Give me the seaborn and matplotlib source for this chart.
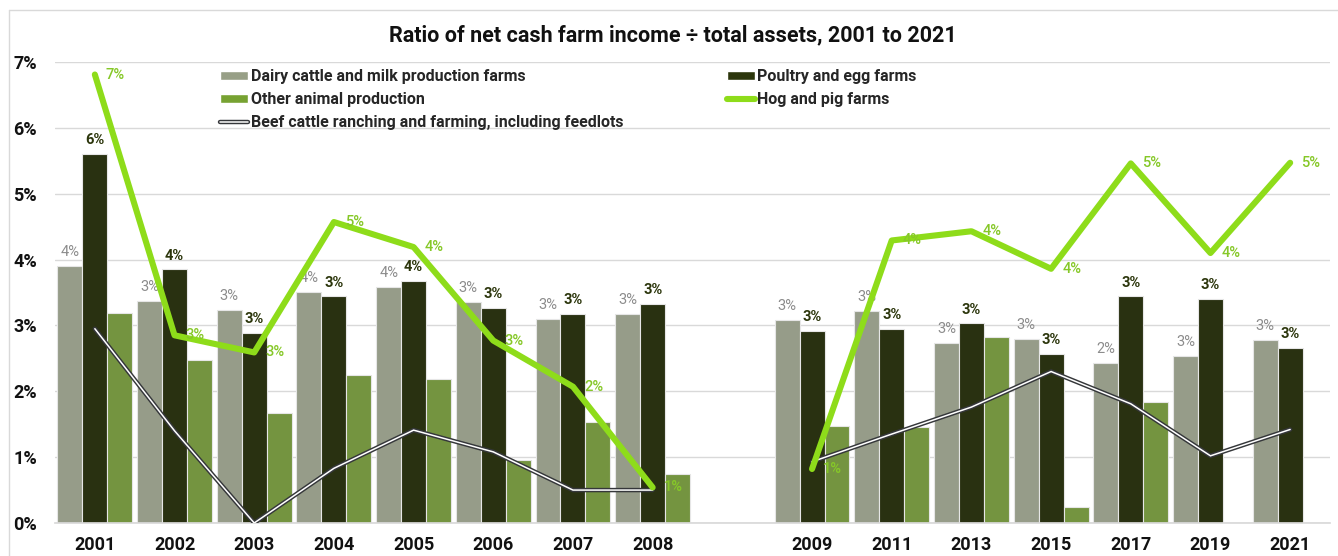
"""
Ratio of net cash farm income / total assets, 2001 to 2021
"""
import numpy as np
import pandas as pd
import matplotlib
import matplotlib.pyplot as plt
from matplotlib.lines import Line2D
from matplotlib.patches import Patch
import seaborn as sns

# data (percent); " " is the empty slot between 2008 and 2009
years = ['2001', '2002', '2003', '2004', '2005', '2006', '2007', '2008', ' ',
         '2009', '2011', '2013', '2015', '2017', '2019', '2021']
nan = np.nan
dairy = [3.90, 3.37, 3.24, 3.51, 3.58, 3.35, 3.10, 3.18, nan,
         3.09, 3.22, 2.74, 2.79, 2.43, 2.53, 2.78]
poultry = [5.61, 3.85, 2.89, 3.44, 3.67, 3.26, 3.17, 3.32, nan,
           2.92, 2.94, 3.03, 2.57, 3.44, 3.40, 2.66]
other = [3.19, 2.48, 1.67, 2.25, 2.18, 0.95, 1.53, 0.75, nan,
         1.47, 1.46, 2.82, 0.25, 1.84, nan, nan]
hog = [6.81, 2.85, 2.59, 4.57, 4.19, 2.77, 2.07, 0.54, nan,
       0.82, 4.29, 4.43, 3.86, 5.46, 4.10, 5.47]
beef = [2.95, 1.40, 0.0, 0.83, 1.41, 1.08, 0.50, 0.50, nan,
        0.93, 1.35, 1.76, 2.30, 1.81, 1.02, 1.42]

bar_names = ['Dairy cattle and milk production farms', 'Poultry and egg farms',
             'Other animal production']
hog_name = 'Hog and pig farms'
beef_name = 'Beef cattle ranching and farming, including feedlots'

c_dairy = '#979f86'
c_poultry = '#2c360c'
c_other = '#77a232'
c_hog = '#8edc1a'
c_beef = '#35373a'

sns.set_theme(style='white')
plt.rcParams['font.family'] = ['Roboto', 'DejaVu Sans']

df = pd.DataFrame({'year': years * 3,
                   'series': np.repeat(bar_names, len(years)),
                   'value': dairy + poultry + other})

fig = plt.figure(figsize=(13.38, 5.56), dpi=100)
ax = fig.add_axes([55 / 1338, 1 - 523 / 556, 1275 / 1338, 461 / 556])

sns.barplot(data=df, x='year', y='value', hue='series', order=years,
            hue_order=bar_names, palette=[c_dairy, c_poultry, c_other],
            width=0.94, errorbar=None, edgecolor='#e6e6e6', linewidth=0.8,
            legend=False, ax=ax, zorder=2)

# value labels on dairy and poultry bars
for cont, col, wt in [(ax.containers[0], '#8c8c8c', 'normal'),
                      (ax.containers[1], c_poultry, 'bold')]:
    labels = ['' if np.isnan(v) else f'{v:.0f}%' for v in cont.datavalues]
    ax.bar_label(cont, labels=labels, padding=5, fontsize=10.5,
                 color=col, fontweight=wt)

# lines, split at the empty slot
pos = np.arange(len(years))
gap = years.index(' ')
for seg in (slice(0, gap), slice(gap + 1, len(years))):
    x = pos[seg]
    sns.lineplot(x=x, y=np.array(beef)[seg], color=c_beef, lw=3.2,
                 ax=ax, zorder=3, solid_joinstyle='miter')
    sns.lineplot(x=x, y=np.array(beef)[seg], color='white', lw=1.1,
                 ax=ax, zorder=3.1, solid_joinstyle='miter')
    sns.lineplot(x=x, y=np.array(hog)[seg], color=c_hog, lw=4.4,
                 ax=ax, zorder=4, solid_capstyle='round')

for xi, v in zip(pos, hog):
    if not np.isnan(v):
        ax.annotate(f'{v:.0f}%', (xi, v), xytext=(8, 0),
                    textcoords='offset points', ha='left', va='center',
                    fontsize=10.5, fontweight='medium', color='#86c828', zorder=5)

ax.set_xlim(-0.5, len(years) - 0.5)
ax.set_ylim(0, 7)
ax.set_yticks(range(8))
ax.set_yticklabels([f'{i}%' for i in range(8)])
ax.set_xlabel('')
ax.set_ylabel('')
ax.grid(axis='y', color='#d9d9d9', lw=1.0, zorder=0)
ax.set_axisbelow(True)
for s in ['top', 'right', 'left']:
    ax.spines[s].set_visible(False)
ax.spines['bottom'].set_color('#d9d9d9')
ax.tick_params(axis='both', length=0, labelsize=13)
ax.tick_params(axis='y', pad=13)
ax.tick_params(axis='x', pad=9)
for t in ax.get_xticklabels() + ax.get_yticklabels():
    t.set_fontweight('bold')
    t.set_color('#111111')

# legend, laid out as rows like the original
handles = [Patch(facecolor=c_dairy), Patch(facecolor=c_other),
           (Line2D([], [], color=c_beef, lw=3.2), Line2D([], [], color='white', lw=1.1)),
           Patch(facecolor=c_poultry),
           Line2D([], [], color=c_hog, lw=4.4, solid_capstyle='round')]
labels = [bar_names[0], bar_names[2], beef_name, bar_names[1], hog_name]
fig.legend(handles, labels, loc='upper left', ncol=2,
           bbox_to_anchor=(214 / 1338, 1 - 63 / 556), frameon=False,
           prop={'weight': 'bold', 'size': 11.5}, handlelength=1.75,
           handleheight=0.5, handletextpad=0.15, columnspacing=6.5,
           labelspacing=0.5, borderaxespad=0)

fig.text(0.503, 1 - 35 / 556,
         'Ratio of net cash farm income ÷ total assets, 2001 to 2021',
         ha='center', va='center', fontsize=15.5, fontweight='bold', color='#111111')

# light chart border
fig.add_artist(Line2D([9 / 1338, 1], [1 - 10 / 556] * 2, color='#d9d9d9', lw=1))
fig.add_artist(Line2D([9 / 1338] * 2, [0, 1 - 10 / 556], color='#d9d9d9', lw=1))

fig.savefig('out.png', dpi=100, facecolor='white')
